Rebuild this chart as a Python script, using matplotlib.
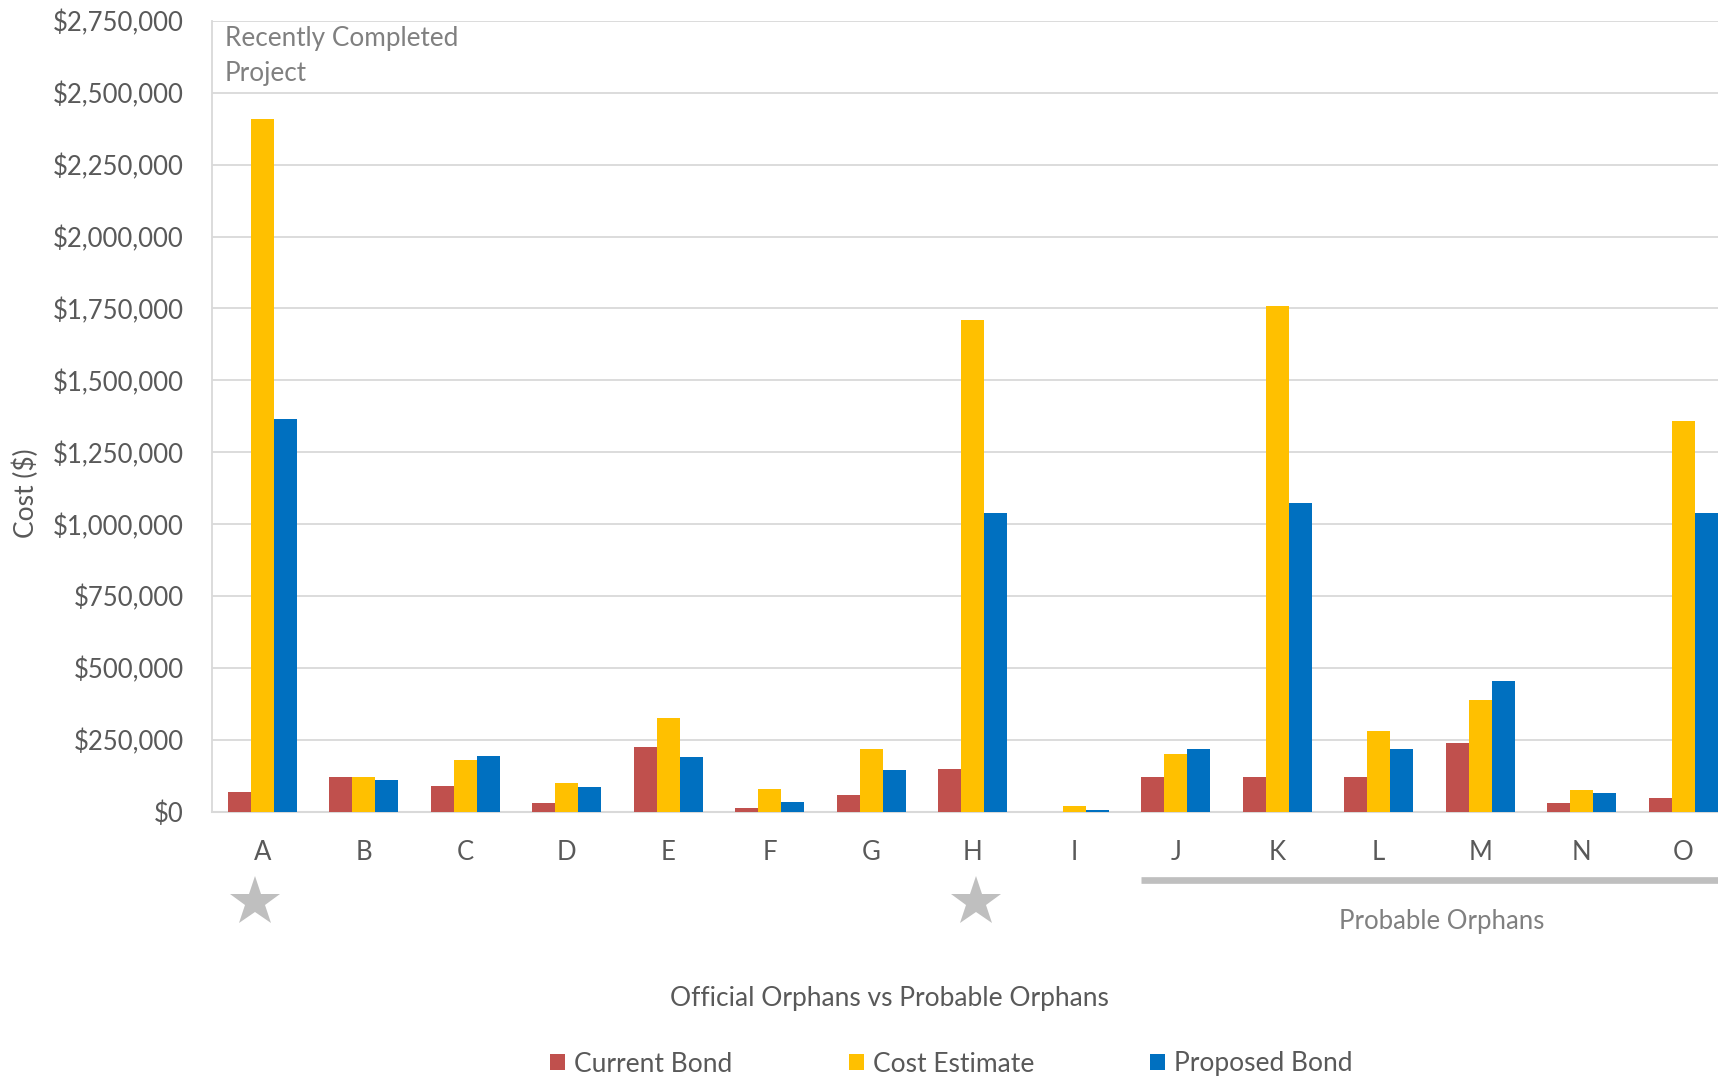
import matplotlib
matplotlib.use("Agg")
import matplotlib.pyplot as plt
import numpy as np
from matplotlib.ticker import FuncFormatter, MultipleLocator
from matplotlib.transforms import blended_transform_factory
from matplotlib.patches import Patch

plt.rcParams['font.family'] = ['Lato', 'DejaVu Sans']

# ---- data ---------------------------------------------------------------
projects = list("ABCDEFGHIJKLMNO")
current_bond = [70000, 120000, 90000, 30000, 225000, 15000, 60000, 150000,
                0, 120000, 120000, 120000, 240000, 30000, 50000]
cost_estimate = [2410000, 120000, 180000, 100000, 325000, 80000, 220000, 1710000,
                 20000, 200000, 1760000, 280000, 390000, 75000, 1360000]
proposed_bond = [1365000, 110000, 195000, 85000, 190000, 35000, 145000, 1040000,
                 5000, 220000, 1075000, 220000, 455000, 65000, 1040000]
series_names = ["Current Bond", "Cost Estimate", "Proposed Bond"]
completed_projects = ["A", "H"]
first_probable = "J"

colors = ["#C0504D", "#FFC000", "#0070C0"]
text_grey = "#595959"
light_grey = "#808080"
grid_grey = "#D9D9D9"
fs = 18.5

# ---- figure ---------------------------------------------------------------
W, H = 1718, 1079
fig = plt.figure(figsize=(W / 100, H / 100), dpi=100)
left_px, right_px, top_px, base_px = 211.5, 1734.0, 20.8, 811.9
ax = fig.add_axes([left_px / W, (H - base_px) / H,
                   (right_px - left_px) / W, (base_px - top_px) / H])

x = np.arange(len(projects))
bw = 0.225
for i, (vals, name) in enumerate(zip([current_bond, cost_estimate, proposed_bond], series_names)):
    ax.bar(x + (i - 1) * bw, vals, width=bw, color=colors[i], label=name, zorder=3)

ax.set_xlim(-0.5, len(projects) - 0.5)
ax.set_ylim(0, 2750000)
ax.yaxis.set_major_locator(MultipleLocator(250000))
ax.yaxis.set_major_formatter(FuncFormatter(lambda v, p: f"${v:,.0f}"))
ax.set_xticks(x)
ax.set_xticklabels(projects)
ax.tick_params(axis='both', length=0, labelsize=fs, labelcolor=text_grey)
ax.tick_params(axis='x', pad=20)
ax.tick_params(axis='y', pad=20)
ax.grid(axis='y', color=grid_grey, linewidth=1.3, zorder=0)
for side in ['top', 'right']:
    ax.spines[side].set_visible(False)
ax.spines['left'].set_color(grid_grey)
ax.spines['left'].set_linewidth(1.3)
ax.spines['bottom'].set_color(grid_grey)
ax.spines['bottom'].set_linewidth(1.5)

# stars under recently completed projects
bt = blended_transform_factory(ax.transData, fig.transFigure)
star_offsets = [-0.07, 0.03]
star_x = [projects.index(p) + off for p, off in zip(completed_projects, star_offsets)]
ax.plot(star_x, [1 - 902 / H] * len(star_x), linestyle='none', marker='*',
        markersize=38, color="#BFBFBF", markeredgewidth=0,
        transform=bt, clip_on=False)

# bracket for probable orphans
j0 = projects.index(first_probable) - 0.34
ax.plot([j0, len(projects) + 0.5], [1 - 880 / H] * 2, color="#BFBFBF",
        linewidth=4.8, solid_capstyle='butt', transform=bt, clip_on=False)
fig.text(1442 / W, 1 - 921 / H, "Probable Orphans", ha='center', va='center',
         fontsize=fs, color=light_grey)

ax.text(224.6 / W, 1 - 26 / H, "Recently Completed\nProject", transform=fig.transFigure,
        ha='left', va='top', fontsize=18.8, color=light_grey, linespacing=1.5)

fig.text(889.7 / W, 1 - 998.5 / H, "Official Orphans vs Probable Orphans",
         ha='center', va='center', fontsize=19, color=text_grey)
fig.text(26 / W, 1 - 493 / H, "Cost ($)", rotation=90, ha='center', va='center',
         fontsize=19, color=text_grey)

handles = [Patch(facecolor=c, edgecolor='none') for c in colors]
fig.legend(handles, series_names, loc='center', ncol=3,
           bbox_to_anchor=(951.6 / W, 1 - 1064 / H), frameon=False,
           fontsize=19, labelcolor=text_grey, handlelength=0.57,
           handleheight=0.57, handletextpad=0.34, columnspacing=4.4,
           borderpad=0, borderaxespad=0)

fig.savefig("out.png", dpi=100)
